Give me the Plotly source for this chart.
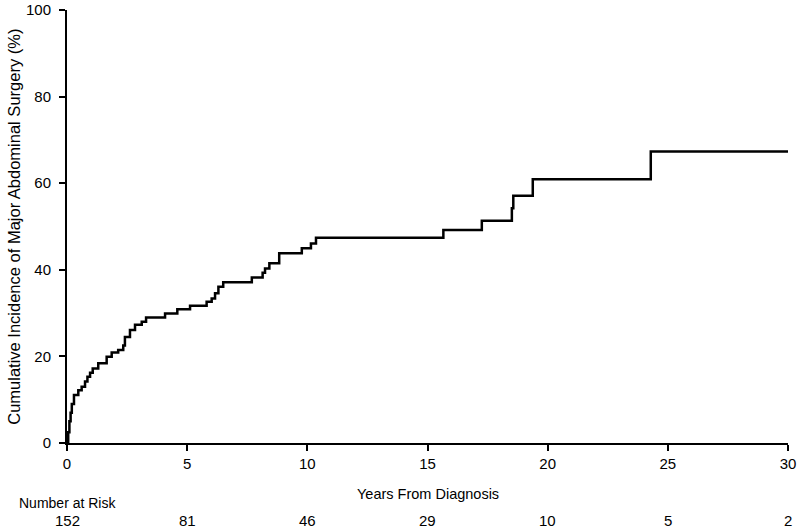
import plotly.graph_objects as go

# Step times (years) and cumulative incidence (%)
years = [0, 0.05, 0.10, 0.15, 0.20, 0.29, 0.47, 0.61, 0.75, 0.85, 0.96, 1.07, 1.30,
         1.65, 1.86, 2.13, 2.34, 2.41, 2.62, 2.83, 3.11, 3.29, 4.08, 4.59, 5.12,
         5.81, 6.02, 6.16, 6.30, 6.50, 7.69, 8.14, 8.24, 8.42, 8.83, 9.77, 10.15,
         10.36, 15.66, 17.26, 18.51, 18.57, 19.38, 24.29, 30.0]
incidence = [0, 2.5, 5.0, 7.0, 9.0, 11.1, 12.2, 13.0, 14.2, 15.3, 16.2, 17.2, 18.4,
             19.9, 20.9, 21.5, 22.5, 24.5, 26.1, 27.3, 28.0, 29.0, 29.9, 30.9, 31.7,
             32.6, 33.4, 34.6, 36.1, 37.1, 38.2, 39.3, 40.3, 41.5, 43.8, 45.0, 46.1,
             47.4, 49.2, 51.3, 54.2, 57.1, 60.9, 67.3, 67.3]

x_ticks = [0, 5, 10, 15, 20, 25, 30]
y_ticks = [0, 20, 40, 60, 80, 100]
at_risk = [152, 81, 46, 29, 10, 5, 2]

FONT = "Liberation Sans, Arial, sans-serif"

fig = go.Figure()
fig.add_trace(go.Scatter(
    x=years, y=incidence, mode="lines",
    line=dict(shape="hv", color="black", width=2.5),
    showlegend=False, hoverinfo="skip"))

annotations = [
    dict(x=-0.0745, y=0.5, xref="paper", yref="paper", textangle=-90,
         text="Cumulative Incidence of Major Abdominal Surgery (%)",
         showarrow=False, font=dict(family=FONT, size=16.5, color="black"),
         xanchor="center", yanchor="middle"),
    dict(x=15, y=-0.118, xref="x", yref="paper", text="Years From Diagnosis",
         showarrow=False, font=dict(family=FONT, size=14.5, color="black"),
         xanchor="center", yanchor="middle"),
    dict(x=0, y=-0.139, xref="paper", yref="paper", text="Number at Risk",
         showarrow=False, font=dict(family=FONT, size=14, color="black"),
         xanchor="center", yanchor="middle"),
]
for xv, n in zip(x_ticks, at_risk):
    annotations.append(dict(x=xv, y=-0.180, xref="x", yref="paper", text=str(n),
                            showarrow=False,
                            font=dict(family=FONT, size=15, color="black"),
                            xanchor="center", yanchor="middle"))

fig.update_layout(
    width=800, height=531,
    margin=dict(l=67, r=12, t=10, b=88, autoexpand=False),
    plot_bgcolor="white", paper_bgcolor="white",
    font=dict(family=FONT, color="black"),
    xaxis=dict(range=[0, 30], tickvals=x_ticks, ticks="outside", ticklen=6,
               tickwidth=1.5, tickcolor="black", showline=True, linecolor="black",
               linewidth=2, showgrid=False, zeroline=False, automargin=False,
               tickfont=dict(size=15, family=FONT)),
    yaxis=dict(range=[0, 100], tickvals=y_ticks, ticks="outside", ticklen=6,
               tickwidth=1.5, tickcolor="black", showline=True, linecolor="black",
               linewidth=2, showgrid=False, zeroline=False, automargin=False,
               ticklabelstandoff=5,
               tickfont=dict(size=15, family=FONT)),
    annotations=annotations,
)

# remove the default page margin so the figure sits at the window's top-left
fig.write_html(
    "out.html",
    config={"displayModeBar": False},
    post_script="document.body.style.margin='0';document.body.style.overflow='hidden';",
)
